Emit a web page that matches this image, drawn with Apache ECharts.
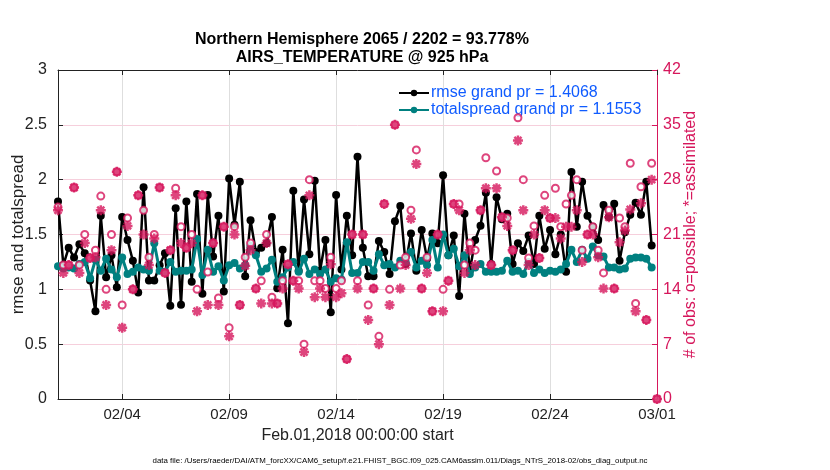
<!DOCTYPE html>
<html>
<head>
<meta charset="utf-8">
<script src="https://cdn.jsdelivr.net/npm/echarts@6/dist/echarts.min.js"></script>
<style>
html,body{margin:0;padding:0;background:#fff;}
#c{width:830px;height:470px;}
</style>
</head>
<body>
<div id="c"></div>
<script>
// time step: 6-hourly bins starting Feb 01 2018 00:00 (x in days)
const stepDays = 0.25;
const rmse = [
1.80,1.22,1.38,1.29,1.41,1.33,1.08,0.80,1.67,1.11,1.31,1.02,1.66,1.45,1.26,0.97,
1.93,1.08,1.08,1.22,1.33,0.85,1.74,0.86,1.80,1.07,1.87,0.96,1.86,1.30,1.67,0.98,
2.01,1.59,1.98,1.12,1.63,1.34,1.38,1.42,1.66,1.01,1.36,0.69,1.90,1.17,1.82,1.32,
1.99,1.17,1.45,0.79,1.86,1.18,1.67,1.31,2.21,1.38,1.12,1.12,1.44,1.34,1.14,1.62,
1.76,1.23,1.51,1.17,1.54,1.28,1.51,1.42,2.04,1.31,1.49,0.94,1.69,1.17,1.45,1.58,
1.88,1.23,1.84,1.64,1.69,1.23,1.42,1.35,1.49,1.23,1.67,1.37,1.54,1.32,1.50,1.16,
2.07,1.57,1.98,1.67,1.57,1.45,1.77,1.66,1.78,1.26,1.52,1.68,1.79,1.68,1.98,1.40
];
const spread = [
1.21,1.19,1.20,1.19,1.23,1.25,1.10,1.27,1.17,1.28,1.18,1.11,1.29,1.14,1.16,1.20,
1.18,1.17,1.42,1.17,1.16,1.25,1.16,1.17,1.17,1.18,1.46,1.13,1.36,1.16,1.21,1.08,
1.22,1.24,1.19,1.22,1.40,1.31,1.16,1.19,1.27,1.07,1.11,1.20,1.25,1.16,1.28,1.14,
1.18,1.14,1.18,1.07,1.10,1.09,1.43,1.15,1.15,1.25,1.25,1.17,1.32,1.22,1.23,1.20,
1.26,1.25,1.34,1.20,1.26,1.22,1.45,1.20,1.50,1.31,1.37,1.21,1.31,1.14,1.20,1.23,
1.16,1.16,1.16,1.17,1.26,1.16,1.17,1.14,1.25,1.15,1.18,1.15,1.17,1.16,1.18,1.23,
1.36,1.25,1.36,1.28,1.39,1.31,1.30,1.20,1.20,1.18,1.19,1.28,1.29,1.29,1.28,1.20
];
const possible = [
24.5,17.1,17.1,27.0,17.1,21.0,18.0,19.0,25.9,14.0,21.0,29.0,12.0,23.1,14.0,26.0,
24.1,18.1,21.0,27.0,16.1,19.0,26.9,22.0,19.3,21.0,14.0,26.0,16.2,19.9,12.9,22.0,
9.1,22.0,12.0,18.1,19.9,14.1,15.1,21.0,13.0,12.2,15.1,17.2,15.1,15.1,7.0,28.0,
15.1,15.1,14.1,18.1,14.1,15.1,5.1,21.0,15.1,21.0,12.0,14.1,8.0,24.9,14.0,35.0,
17.1,18.1,24.1,31.8,14.1,18.1,11.2,21.0,14.0,15.1,24.9,24.9,17.1,19.9,19.0,24.1,
30.8,17.1,29.1,23.2,23.1,19.0,35.9,28.0,18.0,22.1,18.0,26.0,23.1,26.9,22.0,24.9,
26.0,28.0,19.0,21.0,22.0,19.0,16.1,24.1,14.1,23.1,22.0,30.1,12.2,27.1,10.1,30.1,
0
];
const assimilated = [
24.1,16.1,17.1,27.0,16.1,19.9,18.0,18.1,24.1,12.0,19.0,29.0,9.1,22.1,14.0,26.0,
21.0,17.1,20.5,27.0,16.1,19.0,26.0,19.9,19.3,19.9,11.2,26.0,12.0,19.9,12.0,22.0,
8.0,21.0,12.0,17.0,19.0,14.1,12.2,19.9,12.2,12.2,14.1,17.2,15.1,14.1,6.0,26.0,
13.0,14.1,13.0,17.2,13.0,13.5,5.1,21.0,14.1,21.0,10.1,14.1,7.0,24.9,12.0,35.0,
14.1,17.1,23.0,30.0,14.1,16.1,11.2,21.0,11.2,15.1,24.9,24.1,16.1,19.0,17.1,24.1,
26.9,17.1,26.9,23.2,22.1,19.0,33.0,24.1,17.1,21.0,18.0,24.1,23.1,23.1,20.5,22.0,
22.0,24.1,17.5,21.0,21.0,18.1,14.1,23.2,14.1,20.0,21.5,24.2,11.2,25.0,10.1,28.0,
0
];
const tickDays = [3, 8, 13, 18, 23, 28];
const tickLabels = ['02/04', '02/09', '02/14', '02/19', '02/24', '03/01'];
const rmseName = 'rmse grand pr = 1.4068';
const spreadName = 'totalspread grand pr = 1.1553';
const titleText = 'Northern Hemisphere 2065 / 2202 = 93.778%\nAIRS_TEMPERATURE @ 925 hPa';
const footText = 'data file: /Users/raeder/DAI/ATM_forcXX/CAM6_setup/f.e21.FHIST_BGC.f09_025.CAM6assim.011/Diags_NTrS_2018-02/obs_diag_output.nc';

const MAG = '#d6175c';
const TEAL = '#008080';
const FONT = '"Liberation Sans", Arial, Helvetica, sans-serif';
const ASTER = 'path://M-1,-0.25L1,-0.25L1,0.25L-1,0.25ZM-0.25,-1L0.25,-1L0.25,1L-0.25,1ZM-0.53,-0.884L0.884,0.53L0.53,0.884L-0.884,-0.53ZM-0.884,0.53L0.53,-0.884L0.884,-0.53L-0.53,0.884Z';

const toPairs = arr => arr.map((v, i) => [i * stepDays, v]);

const chart = echarts.init(document.getElementById('c'), null, {renderer: 'canvas'});
chart.setOption({
  backgroundColor: '#fff',
  animation: false,
  textStyle: {fontFamily: FONT},
  title: [
    {text: titleText, left: 357, top: 26, textAlign: 'center',
     textStyle: {fontSize: 16, fontWeight: 'bold', color: '#000', lineHeight: 18, fontFamily: FONT}},
    {text: footText, left: 395, top: 452, textAlign: 'center',
     textStyle: {fontSize: 7.9, fontWeight: 'normal', color: '#000', fontFamily: FONT}}
  ],
  legend: {
    orient: 'vertical', left: 393, top: 80, itemWidth: 30, itemHeight: 8, itemGap: 1,
    data: [rmseName, spreadName],
    textStyle: {color: '#0f5bff', fontSize: 16, fontFamily: FONT, padding: [0, 0, 0, -3]}
  },
  grid: {left: 58, right: 173, top: 70, bottom: 71, containLabel: false, outerBoundsMode: 'none'},
  xAxis: [
    {type: 'value', min: 0, max: 28, position: 'bottom',
     name: 'Feb.01,2018 00:00:00 start', nameLocation: 'middle', nameGap: 29, nameMoveOverlap: false,
     nameTextStyle: {fontSize: 16, color: '#222', fontFamily: FONT},
     axisLine: {show: true, onZero: false, lineStyle: {color: '#222', width: 1}},
     axisTick: {show: true, inside: true, length: 5, customValues: tickDays, lineStyle: {color: '#222'}},
     axisLabel: {customValues: tickDays, margin: 8, fontSize: 15, color: '#222', fontFamily: FONT,
       formatter: v => tickLabels[tickDays.indexOf(Math.round(v))] || ''},
     splitLine: {show: true, lineStyle: {color: '#dedede', width: 1}}},
    {type: 'value', min: 0, max: 28, position: 'top',
     axisLine: {show: true, onZero: false, lineStyle: {color: '#222', width: 1}},
     axisTick: {show: true, inside: true, length: 5, customValues: tickDays, lineStyle: {color: '#222'}},
     axisLabel: {show: false}, splitLine: {show: false}}
  ],
  yAxis: [
    {type: 'value', min: 0, max: 3, interval: 0.5, position: 'left',
     name: 'rmse and totalspread', nameLocation: 'middle', nameGap: 31, nameRotate: 90, nameMoveOverlap: false,
     nameTextStyle: {fontSize: 17, color: '#222', fontFamily: FONT},
     axisLine: {show: true, onZero: false, lineStyle: {color: '#222', width: 1}},
     axisTick: {show: true, inside: true, length: 5, lineStyle: {color: '#222'}},
     axisLabel: {margin: 11, fontSize: 16, color: '#222', fontFamily: FONT},
     splitLine: {show: false}},
    {type: 'value', min: 0, max: 42, interval: 7, position: 'right',
     name: '# of obs: o=possible; *=assimilated', nameLocation: 'middle', nameGap: 26, nameRotate: 90, nameMoveOverlap: false,
     nameTextStyle: {fontSize: 16, color: MAG, fontFamily: FONT},
     axisLine: {show: true, onZero: false, lineStyle: {color: MAG, width: 1}},
     axisTick: {show: true, inside: true, length: 5, lineStyle: {color: MAG}},
     axisLabel: {margin: 6, fontSize: 16, color: MAG, fontFamily: FONT},
     splitLine: {show: true, lineStyle: {color: '#f6cfdc', width: 1}}}
  ],
  series: [
    {name: rmseName, type: 'line', xAxisIndex: 0, yAxisIndex: 0, data: toPairs(rmse),
     symbol: 'circle', symbolSize: 8, showSymbol: true, z: 3,
     lineStyle: {color: '#000', width: 2.5}, itemStyle: {color: '#000'}},
    {name: spreadName, type: 'line', xAxisIndex: 0, yAxisIndex: 0, data: toPairs(spread),
     symbol: 'circle', symbolSize: 8, showSymbol: true, z: 4,
     lineStyle: {color: TEAL, width: 3}, itemStyle: {color: TEAL}},
    {name: 'possible', type: 'scatter', xAxisIndex: 0, yAxisIndex: 1, data: toPairs(possible),
     symbol: 'emptyCircle', symbolSize: 7, clip: false, z: 5,
     itemStyle: {color: MAG, borderColor: MAG, borderWidth: 1.7}},
    {name: 'assimilated', type: 'scatter', xAxisIndex: 0, yAxisIndex: 1, data: toPairs(assimilated),
     symbol: ASTER, symbolSize: 10, clip: false, z: 6,
     itemStyle: {color: MAG}}
  ]
});
</script>
</body>
</html>
